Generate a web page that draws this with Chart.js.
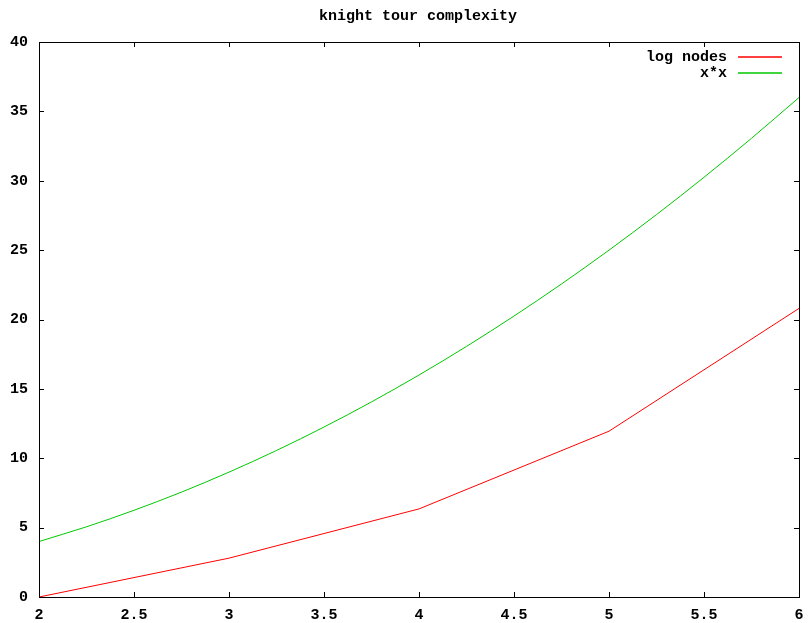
<!DOCTYPE html>
<html><head><meta charset="utf-8">
<script src="https://cdn.jsdelivr.net/npm/chart.js@4"></script>
<style>html,body{margin:0;padding:0;background:#fff}canvas{display:block}</style>
</head><body>
<canvas id="c" width="809" height="623"></canvas>
<script>
const title = "knight tour complexity";
const logNodesX = [2, 3, 4, 5, 6];
const logNodesY = [0, 2.8, 6.35, 11.95, 20.8];
const sqX = [2, 2.25, 2.5, 2.75, 3, 3.25, 3.5, 3.75, 4, 4.25, 4.5, 4.75, 5, 5.25, 5.5, 5.75, 6];
const sqY = [4, 5.06, 6.25, 7.56, 9, 10.56, 12.25, 14.06, 16, 18.06, 20.25, 22.56, 25, 27.56, 30.25, 33.06, 36];
const xTicks = [2, 2.5, 3, 3.5, 4, 4.5, 5, 5.5, 6];
const yTicks = [0, 5, 10, 15, 20, 25, 30, 35, 40];
const seriesNames = ["log nodes", "x*x"];
const seriesColors = ["#ff0000", "#00c800"];

const FONT = "bold 15px 'Liberation Mono', 'DejaVu Sans Mono', monospace";

const toPts = (xs, ys) => xs.map((x, i) => ({x, y: ys[i]}));

const frame = {
  id: 'frame',
  afterDatasetsDraw(chart) {
    const {ctx, chartArea: a, scales: {x, y}} = chart;
    ctx.save();
    ctx.strokeStyle = '#000';
    ctx.lineWidth = 1;
    ctx.strokeRect(Math.round(a.left) + 0.5, Math.round(a.top) + 0.5, Math.round(a.right - a.left), Math.round(a.bottom - a.top));
    ctx.beginPath();
    const L = 5;
    xTicks.forEach(v => {
      const px = Math.round(x.getPixelForValue(v)) + 0.5;
      ctx.moveTo(px, a.bottom); ctx.lineTo(px, a.bottom - L);
      ctx.moveTo(px, a.top); ctx.lineTo(px, a.top + L);
    });
    yTicks.forEach(v => {
      const py = Math.round(y.getPixelForValue(v)) + 0.5;
      ctx.moveTo(a.left, py); ctx.lineTo(a.left + L, py);
      ctx.moveTo(a.right, py); ctx.lineTo(a.right - L, py);
    });
    ctx.stroke();
    // tick labels
    ctx.fillStyle = '#000';
    ctx.font = FONT;
    ctx.textBaseline = 'middle';
    ctx.textAlign = 'right';
    yTicks.forEach(v => ctx.fillText(String(v), a.left - 11, y.getPixelForValue(v)));
    ctx.textAlign = 'center';
    xTicks.forEach(v => ctx.fillText(String(v), x.getPixelForValue(v), a.bottom + 18));
    // title
    ctx.fillText(title, 418, 16);
    // legend
    ctx.textAlign = 'right';
    seriesNames.forEach((n, i) => {
      const ly = 57 + i * 16;
      ctx.fillStyle = '#000';
      ctx.fillText(n, 727, ly);
      ctx.beginPath();
      ctx.lineWidth = 1.5;
      ctx.strokeStyle = seriesColors[i];
      ctx.moveTo(738, ly);
      ctx.lineTo(782, ly);
      ctx.stroke();
    });
    ctx.restore();
  }
};

new Chart(document.getElementById('c'), {
  type: 'scatter',
  data: {
    datasets: [
      {label: seriesNames[0], data: toPts(logNodesX, logNodesY), showLine: true, borderColor: seriesColors[0], borderWidth: 1, pointRadius: 0, tension: 0},
      {label: seriesNames[1], data: toPts(sqX, sqY), showLine: true, borderColor: seriesColors[1], borderWidth: 1, pointRadius: 0, cubicInterpolationMode: 'monotone'}
    ]
  },
  options: {
    responsive: false,
    animation: false,
    devicePixelRatio: 1,
    layout: {padding: {left: 39, right: 10, top: 42, bottom: 26}},
    plugins: {legend: {display: false}, title: {display: false}, tooltip: {enabled: false}},
    scales: {
      x: {type: 'linear', min: 2, max: 6, display: false},
      y: {type: 'linear', min: 0, max: 40, display: false}
    }
  },
  plugins: [frame]
});
</script>
</body></html>
